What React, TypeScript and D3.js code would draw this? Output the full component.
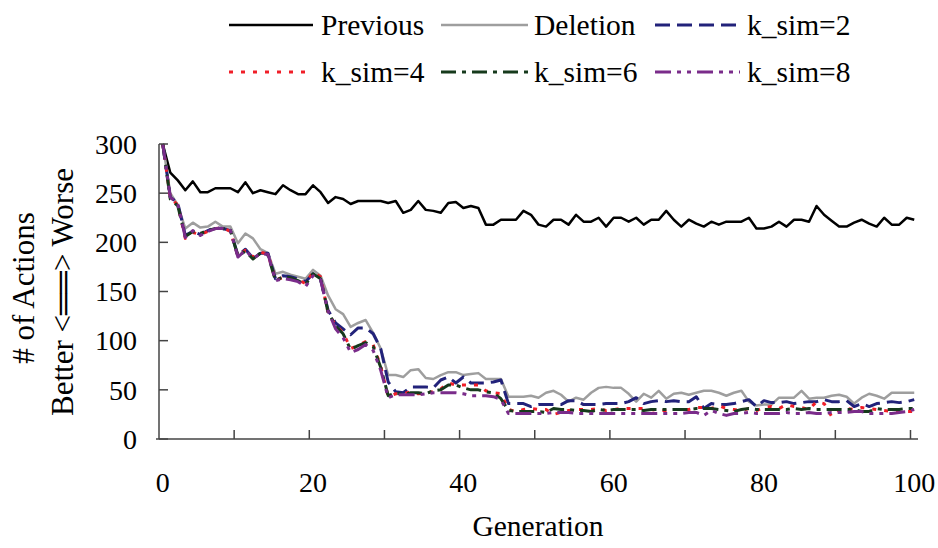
import React from "react";
import * as d3 from "d3";

// generations 0..100
const generations = d3.range(0, 101);

const previous = [
  300, 271, 263, 253, 262, 251, 251, 255, 255, 255,
  251, 261, 250, 253, 251, 249, 258, 253, 249, 249,
  258, 251, 240, 246, 244, 239, 242, 242, 242, 242,
  240, 242, 230, 233, 242, 233, 232, 230, 240, 241,
  235, 237, 235, 218, 218, 223, 223, 223, 232, 228,
  218, 216, 223, 223, 218, 228, 221, 221, 225, 216,
  225, 225, 221, 225, 218, 223, 223, 232, 223, 216,
  223, 219, 216, 221, 218, 221, 221, 221, 225, 214,
  214, 216, 221, 216, 223, 223, 221, 237, 228, 222,
  216, 216, 220, 223, 219, 216, 225, 218, 218, 225, 223,
];

const deletion = [
  300, 250, 238, 214, 220, 215, 216, 221, 216, 216,
  199, 209, 204, 193, 189, 168, 170, 167, 165, 163,
  172, 166, 146, 132, 127, 114, 118, 121, 108, 92,
  65, 65, 63, 70, 71, 62, 61, 65, 68, 68,
  65, 66, 67, 61, 61, 61, 43, 43, 43, 44,
  42, 47, 49, 45, 38, 42, 40, 47, 52, 53,
  52, 52, 46, 38, 46, 42, 49, 41, 46, 47,
  45, 47, 49, 49, 47, 44, 47, 49, 38, 34,
  35, 35, 42, 42, 42, 49, 41, 42, 42, 44,
  45, 43, 36, 42, 46, 44, 41, 47, 47, 47, 47,
];

const kSim2 = [
  300, 246, 240, 207, 211, 208, 212, 215, 214, 212,
  187, 193, 184, 189, 189, 163, 166, 165, 163, 160,
  168, 162, 131, 118, 112, 106, 113, 113, 107, 92,
  58, 48, 47, 53, 53, 53, 52, 60, 63, 57,
  63, 57, 57, 57, 58, 60, 36, 36, 36, 33,
  35, 35, 35, 35, 39, 39, 35, 35, 35, 36,
  36, 36, 38, 42, 36, 38, 39, 38, 39, 38,
  38, 43, 31, 36, 35, 35, 36, 38, 40, 33,
  39, 37, 37, 38, 36, 37, 38, 38, 40, 38,
  38, 39, 33, 36, 33, 36, 37, 38, 37, 38, 40,
];

const kSim4 = [
  300, 245, 238, 204, 210, 208, 211, 214, 215, 211,
  186, 192, 185, 190, 188, 162, 164, 163, 162, 158,
  170, 165, 128, 116, 108, 92, 95, 99, 96, 74,
  43, 46, 46, 48, 46, 47, 48, 51, 57, 55,
  55, 55, 55, 49, 47, 46, 30, 28, 30, 31,
  30, 30, 25, 27, 29, 30, 30, 30, 31, 29,
  30, 31, 31, 31, 31, 30, 29, 29, 30, 30,
  30, 32, 32, 31, 34, 31, 30, 29, 31, 29,
  32, 33, 31, 35, 33, 32, 30, 38, 36, 23,
  29, 31, 30, 32, 31, 30, 29, 28, 28, 28, 28,
];

const kSim6 = [
  300, 244, 237, 206, 211, 209, 212, 214, 214, 212,
  186, 191, 183, 189, 187, 161, 165, 164, 161, 157,
  168, 163, 129, 115, 107, 91, 95, 98, 94, 73,
  44, 47, 45, 47, 47, 46, 49, 50, 55, 55,
  52, 50, 50, 48, 47, 41, 29, 28, 28, 28,
  28, 27, 31, 30, 30, 29, 29, 28, 30, 29,
  30, 30, 30, 30, 29, 30, 30, 30, 30, 30,
  30, 31, 31, 31, 30, 29, 28, 30, 31, 30,
  30, 30, 30, 30, 31, 30, 31, 30, 30, 30,
  30, 30, 30, 28, 28, 31, 30, 30, 30, 31, 31,
];

const kSim8 = [
  300, 246, 239, 205, 212, 207, 211, 214, 214, 212,
  185, 192, 184, 188, 188, 161, 163, 162, 160, 155,
  166, 162, 130, 112, 103, 88, 91, 96, 90, 70,
  42, 45, 45, 45, 45, 46, 47, 47, 47, 47,
  46, 44, 44, 44, 43, 40, 26, 26, 26, 26,
  26, 26, 27, 27, 27, 26, 26, 26, 26, 26,
  26, 26, 26, 26, 26, 26, 26, 26, 26, 26,
  27, 27, 24, 29, 26, 24, 26, 26, 27, 26,
  26, 26, 26, 27, 26, 26, 27, 26, 26, 27,
  27, 27, 28, 28, 26, 26, 26, 26, 27, 28, 30,
];

const yTicks = [0, 50, 100, 150, 200, 250, 300];
const xTickLabels = [0, 20, 40, 60, 80, 100];

const series = [
  { name: "Previous", values: previous, color: "#000000", width: 2.5, dash: "" },
  { name: "Deletion", values: deletion, color: "#9e9e9e", width: 2.5, dash: "" },
  { name: "k_sim=2", values: kSim2, color: "#22227a", width: 3, dash: "15,7" },
  { name: "k_sim=4", values: kSim4, color: "#f01e28", width: 3, dash: "4,8" },
  { name: "k_sim=6", values: kSim6, color: "#163a1c", width: 3, dash: "15,6,4,6" },
  { name: "k_sim=8", values: kSim8, color: "#7a2c8a", width: 3, dash: "16,6,4,6,4,6" },
];

const W = 938;
const H = 548;
const font = "'Liberation Serif', 'Times New Roman', serif";

export default function App() {
  const x = d3.scaleBand<number>().domain(generations).range([159, 918]).padding(0);
  const y = d3.scaleLinear().domain([0, 300]).range([439, 144]);
  const cx = (g: number) => (x(g) as number) + x.bandwidth() / 2;

  const line = d3
    .line<number>()
    .x((_, i) => cx(generations[i]))
    .y((d) => y(d));

  // legend slots: 3 columns x 2 rows
  const legendCols = [
    { x1: 229, x2: 313, tx: 321 },
    { x1: 441, x2: 528, tx: 534 },
    { x1: 655, x2: 740, tx: 747 },
  ];
  const legendRows = [25, 72];

  return (
    <svg
      width={W}
      height={H}
      style={{ position: "absolute", left: 0, top: 0, background: "#fff" }}
      fontFamily={font}
    >
      {/* legend */}
      {series.map((s, i) => {
        const c = legendCols[i % 3];
        const ry = legendRows[Math.floor(i / 3)];
        return (
          <g key={s.name}>
            <line
              x1={c.x1}
              x2={c.x2}
              y1={ry}
              y2={ry}
              stroke={s.color}
              strokeWidth={s.width}
              strokeDasharray={s.dash}
            />
            <text x={c.tx} y={ry} dy="0.33em" fontSize={29.5} fill="#000">
              {s.name}
            </text>
          </g>
        );
      })}

      {/* series */}
      {series.map((s) => (
        <path
          key={s.name}
          d={line(s.values) || ""}
          fill="none"
          stroke={s.color}
          strokeWidth={s.width}
          strokeDasharray={s.dash}
          strokeLinejoin="round"
        />
      ))}

      {/* axes */}
      <line x1={159} x2={159} y1={144} y2={439} stroke="#444" strokeWidth={1.5} />
      <line x1={156} x2={918} y1={439} y2={439} stroke="#444" strokeWidth={1.5} />
      {yTicks.map((t) => (
        <g key={"y" + t}>
          <line x1={159} x2={168} y1={y(t)} y2={y(t)} stroke="#444" strokeWidth={1.5} />
          <text x={137} y={y(t)} dy="0.35em" textAnchor="end" fontSize={28}>
            {t}
          </text>
        </g>
      ))}
      {generations
        .filter((g) => g % 10 === 0 && g > 0)
        .map((g) => (
          <line
            key={"xt" + g}
            x1={x(g)}
            x2={x(g)}
            y1={439}
            y2={430}
            stroke="#444"
            strokeWidth={1.5}
          />
        ))}
      {xTickLabels.map((g) => (
        <text key={"xl" + g} x={cx(g)} y={492} textAnchor="middle" fontSize={28}>
          {g}
        </text>
      ))}

      <text x={538} y={536} textAnchor="middle" fontSize={29.5}>
        Generation
      </text>
      <text
        transform="translate(23,288) rotate(-90)"
        textAnchor="middle"
        dy="0.35em"
        fontSize={31}
      >
        # of Actions
      </text>
      <text
        transform="translate(62,292) rotate(-90)"
        textAnchor="middle"
        dy="0.35em"
        fontSize={31}
      >
        {"Better <══> Worse"}
      </text>
    </svg>
  );
}
